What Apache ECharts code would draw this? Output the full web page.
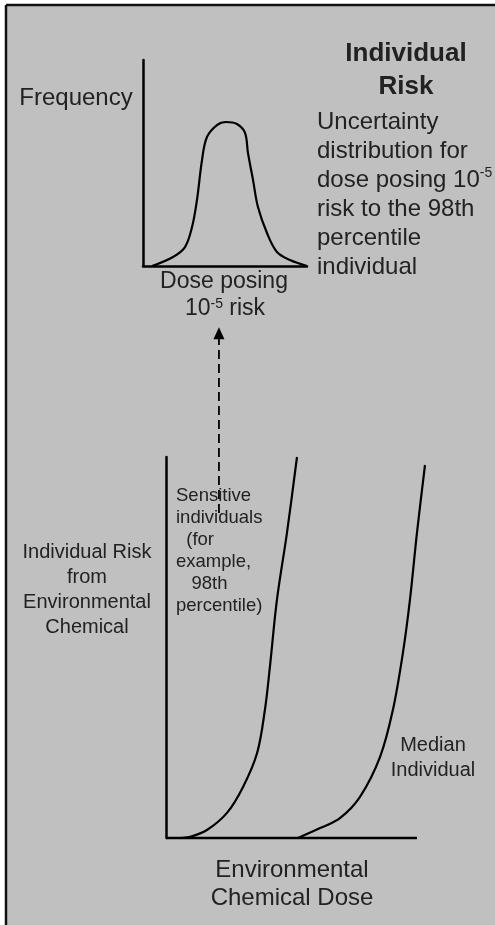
<!DOCTYPE html>
<html>
<head>
<meta charset="utf-8">
<title>Individual Risk</title>
<script src="https://cdn.jsdelivr.net/npm/echarts@6/dist/echarts.min.js"></script>
</head>
<body style="margin:0px;background:#fff;">
<div id="main" style="width:495px;height:925px;"></div>
<script type="text/javascript">
// top panel: uncertainty distribution (x, y in 0..100 axis units)
var freqCurve = [
  [5.5,0],[18.3,4.4],[25.6,9.2],[29.9,18.9],[32.9,32],[36,51.5],[39,62.6],
  [45.1,68.4],[50.6,69.9],[57.3,68.9],[62.2,64.6],[64,54.9],[67.1,41.7],
  [70.1,28.6],[75.6,16],[81.7,6.8],[89.6,2.9],[100,0]
];
// bottom panel: dose-response curves
var sensitiveCurve = [
  [5.6,0],[9.6,0.3],[16.3,2.1],[24.3,6.6],[30.7,13.4],[36.3,22.3],[39.4,33.6],
  [41.4,44.9],[44.2,62.5],[48.2,80.1],[52.2,100]
];
var medianCurve = [
  [52.6,0],[61.4,2.6],[69.3,5.2],[77.3,10.8],[85.3,21.3],[90.4,33.6],
  [94.4,48.6],[97.2,62.5],[100,80.1],[103.2,97.9]
];
// dose axis baseline (ends at 100, curve runs a little past it)
var doseBaseline = [[0,0],[100,0]];
// dashed arrow from sensitive curve up to the top panel
var arrowX = 21.1;
var arrowY = [85.3, 132.5];

var txt = '#222';
var font = '"Liberation Sans", Arial, sans-serif';

function label(x, y, text, size, extra) {
  var st = {
    text: text, x: 0, y: 0, fill: txt, fontSize: size, fontFamily: font,
    textAlign: 'center', textVerticalAlign: 'middle'
  };
  for (var k in extra) st[k] = extra[k];
  return { type: 'text', x: x, y: y, z: 10, style: st };
}
var sup = { s: { fontSize: 14, verticalAlign: 'top', fontFamily: font, fill: txt } };

var myChart = echarts.init(document.getElementById('main'));

var axisOff = {
  type: 'value', min: 0, max: 100,
  axisLine: { show: true, onZero: false, lineStyle: { color: '#000', width: 2.5 } },
  axisTick: { show: false }, axisLabel: { show: false }, splitLine: { show: false }
};
function ax(idx, extra) {
  var o = echarts.util.clone(axisOff); o.gridIndex = idx;
  for (var k in extra) o[k] = extra[k];
  return o;
}

var lineStyle = { color: '#000', width: 2.2 };

myChart.setOption({
  backgroundColor: '#fff',
  animation: false,
  grid: [
    { left: 143, top: 60, width: 164, height: 206 },
    { left: 166, top: 457, width: 261, height: 381 }
  ],
  xAxis: [ax(0), ax(1, { max: 104, axisLine: { show: false } })],
  yAxis: [ax(0), ax(1)],
  graphic: [
    { type: 'rect', z: -10, shape: { x: 6, y: 5, width: 495, height: 925 }, style: { fill: '#c0c0c0' } },
    { type: 'line', z: -5, shape: { x1: 6, y1: 5, x2: 495, y2: 5 }, style: { stroke: '#111', lineWidth: 2.5 } },
    { type: 'line', z: -5, shape: { x1: 6, y1: 5, x2: 6, y2: 925 }, style: { stroke: '#111', lineWidth: 2.5 } },
    label(76, 98, 'Frequency', 24),
    label(406, 54, 'Individual', 26, { fontWeight: 'bold' }),
    label(406, 87, 'Risk', 26, { fontWeight: 'bold' }),
    { type: 'text', x: 317, y: 108, z: 10, style: {
      text: 'Uncertainty\ndistribution for\ndose posing 10{s|-5}\nrisk to the 98th\npercentile\nindividual',
      fontSize: 24, fontFamily: font, fill: txt, lineHeight: 29, textAlign: 'left', textVerticalAlign: 'top', rich: sup
    } },
    label(224, 282, 'Dose posing', 23),
    label(225, 309, '10{s|-5} risk', 23, { rich: sup }),
    { type: 'text', x: 87, y: 540, z: 10, style: {
      text: 'Individual Risk\nfrom\nEnvironmental\nChemical',
      fontSize: 20, fontFamily: font, fill: txt, lineHeight: 25, textAlign: 'center', textVerticalAlign: 'top'
    } },
    { type: 'text', x: 176, y: 485, z: 10, style: {
      text: 'Sensitive\nindividuals\n  (for\nexample,\n   98th\npercentile)',
      fontSize: 18.5, fontFamily: font, fill: txt, lineHeight: 22, textAlign: 'left', textVerticalAlign: 'top'
    } },
    { type: 'text', x: 433, y: 733, z: 10, style: {
      text: 'Median\nIndividual',
      fontSize: 20, fontFamily: font, fill: txt, lineHeight: 25, textAlign: 'center', textVerticalAlign: 'top'
    } },
    { type: 'text', x: 292, y: 856, z: 10, style: {
      text: 'Environmental\nChemical Dose',
      fontSize: 24, fontFamily: font, fill: txt, lineHeight: 28, textAlign: 'center', textVerticalAlign: 'top'
    } }
  ],
  series: [
    { name: 'Frequency', type: 'line', xAxisIndex: 0, yAxisIndex: 0, data: freqCurve,
      smooth: 0.35, showSymbol: false, lineStyle: lineStyle, clip: false },
    { name: 'Dose axis', type: 'line', xAxisIndex: 1, yAxisIndex: 1, data: doseBaseline,
      showSymbol: false, lineStyle: { color: '#000', width: 2.5 }, clip: false },
    { name: 'Sensitive', type: 'line', xAxisIndex: 1, yAxisIndex: 1, data: sensitiveCurve,
      smooth: 0.35, showSymbol: false, lineStyle: lineStyle, clip: false },
    { name: 'Median', type: 'line', xAxisIndex: 1, yAxisIndex: 1, data: medianCurve,
      smooth: 0.35, showSymbol: false, lineStyle: lineStyle, clip: false },
    { name: 'arrow', type: 'line', xAxisIndex: 1, yAxisIndex: 1, clip: false,
      data: [
        { value: [arrowX, arrowY[0]], symbol: 'none' },
        { value: [arrowX, arrowY[1]], symbol: 'triangle', symbolSize: [11, 12] }
      ],
      showAllSymbol: true,
      itemStyle: { color: '#000' },
      lineStyle: { color: '#000', width: 1.8, type: [9, 5] } }
  ]
});
</script>
</body>
</html>
